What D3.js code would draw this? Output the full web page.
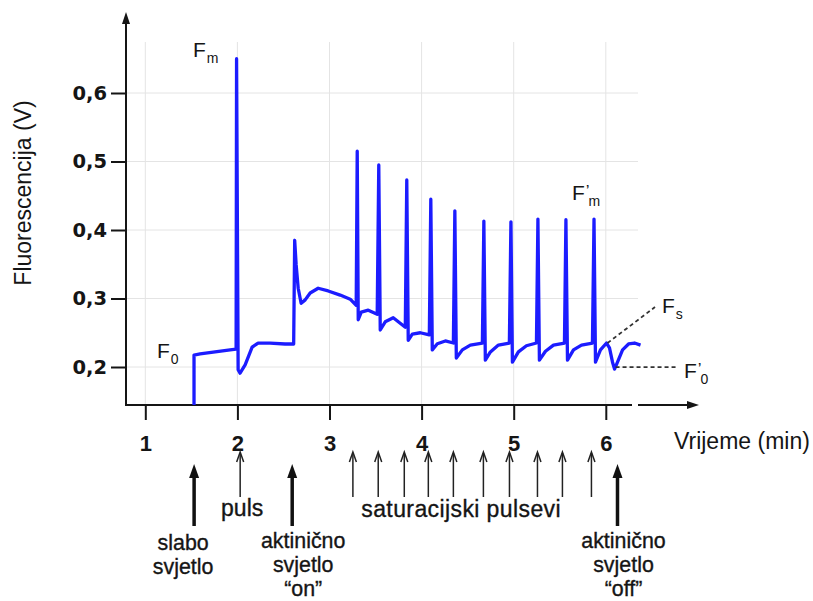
<!DOCTYPE html>
<html><head><meta charset="utf-8">
<script src="https://cdn.jsdelivr.net/npm/d3@7"></script>
<style>body{margin:0;background:#fff}svg{display:block}</style>
</head><body>
<script>
// ---- data ----
const time = [1.529,1.529,1.595,1.758,1.921,1.986,1.991,2.008,2.029,2.084,2.160,2.225,2.355,2.518,2.595,2.611,2.622,2.638,2.660,2.692,2.736,2.790,2.877,2.986,3.116,3.225,3.290,3.301,3.312,3.345,3.421,3.518,3.535,3.551,3.605,3.692,3.823,3.839,3.855,3.899,3.986,4.084,4.100,4.116,4.171,4.258,4.345,4.361,4.377,4.442,4.529,4.660,4.676,4.692,4.747,4.834,4.953,4.970,4.986,5.051,5.138,5.247,5.263,5.279,5.345,5.432,5.551,5.567,5.584,5.649,5.736,5.855,5.872,5.888,5.942,6.008,6.040,6.073,6.095,6.127,6.182,6.247,6.312,6.377];
const fluorescence = [0.1445,0.2175,0.219,0.222,0.225,0.226,0.650,0.196,0.191,0.203,0.229,0.235,0.235,0.2336,0.2336,0.2336,0.385,0.349,0.315,0.293,0.298,0.308,0.315,0.311,0.305,0.299,0.290,0.515,0.269,0.280,0.283,0.277,0.495,0.254,0.266,0.272,0.258,0.473,0.239,0.248,0.250,0.247,0.445,0.225,0.234,0.238,0.235,0.428,0.213,0.225,0.232,0.235,0.413,0.210,0.222,0.232,0.235,0.412,0.207,0.222,0.231,0.235,0.416,0.210,0.223,0.232,0.235,0.415,0.210,0.225,0.232,0.235,0.416,0.207,0.225,0.235,0.228,0.207,0.197,0.207,0.225,0.2336,0.235,0.232];
const xTicks = [1,2,3,4,5,6];
const yTicks = [0.2,0.3,0.4,0.5,0.6];
const yTickLabels = ["0,2","0,3","0,4","0,5","0,6"];
const lightEventTimes = [1.53, 2.595, 6.127];
const lightEventLabels = [["slabo","svjetlo"],["aktinično","svjetlo","“on”"],["aktinično","svjetlo","“off”"]];
const pulseTimes = [2.03, 3.254, 3.529, 3.812, 4.073, 4.345, 4.671, 4.954, 5.258, 5.529, 5.844];
const pulseLabels = ["puls","saturacijski pulsevi"];
const xTitle = "Vrijeme (min)";
const yTitle = "Fluorescencija (V)";

// ---- drawing ----
const W = 813, H = 601;
const x = d3.scaleLinear().domain([1, 6]).range([145.3, 605.8]);
const y = d3.scaleLinear().domain([0.2, 0.6]).range([367, 93]);
const x0 = 126, yBase = 405;
const FONT = "'Liberation Sans', Arial, sans-serif";
const ink = "#151515";

const svg = d3.select("body").append("svg").attr("width", W).attr("height", H);

// gridlines
svg.append("g").selectAll("line").data(xTicks).join("line")
  .attr("x1", d => x(d)).attr("x2", d => x(d)).attr("y1", 42).attr("y2", yBase)
  .attr("stroke", "#e4e4e4").attr("stroke-width", 1);
svg.append("g").selectAll("line").data(yTicks).join("line")
  .attr("x1", x0).attr("x2", 638).attr("y1", d => y(d)).attr("y2", d => y(d))
  .attr("stroke", "#e4e4e4").attr("stroke-width", 1);

// x axis ticks + labels
const xAxis = d3.axisBottom(x).tickValues(xTicks).tickSize(15).tickPadding(15)
  .tickFormat(d3.format("d"));
const gx = svg.append("g").attr("transform", `translate(0,${yBase})`).call(xAxis);
gx.select(".domain").remove();
gx.selectAll(".tick line").attr("stroke", ink).attr("stroke-width", 2);
gx.selectAll(".tick text").attr("fill", ink).attr("font-family", FONT)
  .attr("font-weight", "bold").attr("font-size", 22);

// y axis ticks + labels
const yAxis = d3.axisLeft(y).tickValues(yTicks).tickSize(15).tickPadding(4)
  .tickFormat((d, i) => yTickLabels[i]);
const gy = svg.append("g").attr("transform", `translate(${x0},0)`).call(yAxis);
gy.select(".domain").remove();
gy.selectAll(".tick line").attr("stroke", ink).attr("stroke-width", 2);
gy.selectAll(".tick text").attr("fill", ink).attr("font-family", "'DejaVu Sans', Verdana, sans-serif")
  .attr("font-weight", "bold").attr("font-size", 19.5);

// axis lines with arrows
svg.append("line").attr("x1", x0).attr("x2", x0).attr("y1", yBase + 1).attr("y2", 20)
  .attr("stroke", ink).attr("stroke-width", 2);
svg.append("path").attr("d", `M${x0},12 L${x0 - 4},24 L${x0 + 4},24 Z`).attr("fill", ink);
svg.append("line").attr("x1", x0 - 1).attr("x2", 632).attr("y1", yBase).attr("y2", yBase)
  .attr("stroke", ink).attr("stroke-width", 2);
svg.append("line").attr("x1", 638).attr("x2", 690).attr("y1", yBase).attr("y2", yBase)
  .attr("stroke", ink).attr("stroke-width", 2);
svg.append("path").attr("d", `M699,${yBase} L687,${yBase - 4} L687,${yBase + 4} Z`).attr("fill", ink);

// titles
svg.append("text").attr("x", 674).attr("y", 449).attr("font-family", FONT)
  .attr("font-size", 23).attr("fill", ink).text(xTitle);
svg.append("text").attr("transform", "translate(31,193) rotate(-90)").attr("text-anchor", "middle")
  .attr("font-family", FONT).attr("font-size", 23).attr("fill", ink).text(yTitle);

// trace
const line = d3.line().x((d, i) => x(time[i])).y(d => y(d));
svg.append("path").datum(fluorescence).attr("d", line)
  .attr("fill", "none").attr("stroke", "#1c1cff").attr("stroke-width", 3.3)
  .attr("stroke-linejoin", "round");

// dashed pointers
const dash = svg.append("g").attr("stroke", "#333").attr("stroke-width", 1.8)
  .attr("stroke-dasharray", "4,3");
dash.append("line").attr("x1", x(6.008) + 1).attr("y1", y(0.235)).attr("x2", 655).attr("y2", 307);
dash.append("line").attr("x1", x(6.095) + 1).attr("y1", y(0.197) - 2).attr("x2", 678).attr("y2", y(0.197) - 2);

// F labels
function fLabel(px, py, prime, sub) {
  const t = svg.append("text").attr("x", px).attr("y", py).attr("font-family", FONT)
    .attr("font-size", 21).attr("fill", ink);
  t.append("tspan").text("F");
  if (prime) t.append("tspan").attr("dx", 1).attr("font-size", 17).attr("dy", -3).text("’");
  t.append("tspan").attr("dx", prime ? -1 : 1).attr("dy", prime ? 9 : 6).attr("font-size", 14).text(sub);
}
fLabel(193, 57, false, "m");
fLabel(157, 358, false, "0");
fLabel(572, 200, true, "m");
fLabel(662, 313, false, "s");
fLabel(684, 378, true, "0");

// thick arrows (light on/off)
const thick = svg.append("g").attr("fill", "#111").attr("stroke", "#111");
lightEventTimes.forEach((t, i) => {
  const ax = x(t);
  thick.append("line").attr("x1", ax).attr("x2", ax).attr("y1", 526).attr("y2", 474).attr("stroke-width", 3.5);
  thick.append("path").attr("d", `M${ax},464 L${ax - 5},478 L${ax + 5},478 Z`).attr("stroke", "none");
});
// thin arrows (pulses)
const thin = svg.append("g").attr("fill", "none").attr("stroke", "#222").attr("stroke-width", 1.5);
pulseTimes.forEach(t => {
  const ax = x(t);
  thin.append("line").attr("x1", ax).attr("x2", ax).attr("y1", 497).attr("y2", 453);
  thin.append("path").attr("d", `M${ax - 3.5},462 L${ax},452 L${ax + 3.5},462`);
});

// annotation labels
const ann = svg.append("g").attr("font-family", FONT).attr("font-size", 23)
  .attr("fill", ink).attr("stroke", ink).attr("stroke-width", 0.35).attr("text-anchor", "middle");
const labelDx = [-11, 11, 6];
lightEventLabels.forEach((lines, i) => {
  const cx = x(lightEventTimes[i]) + labelDx[i];
  const y0 = lines.length === 2 ? 550 : 548;
  lines.forEach((s, j) => {
    ann.append("text").attr("x", cx).attr("y", y0 + j * 24).attr("font-size", 21.4).text(s);
  });
});
ann.append("text").attr("x", x(pulseTimes[0]) + 2).attr("y", 516).text(pulseLabels[0]);
ann.append("text").attr("x", (x(pulseTimes[1]) + x(pulseTimes[10])) / 2 - 11).attr("y", 517)
  .attr("letter-spacing", 0.4).text(pulseLabels[1]);
</script>
</body></html>
